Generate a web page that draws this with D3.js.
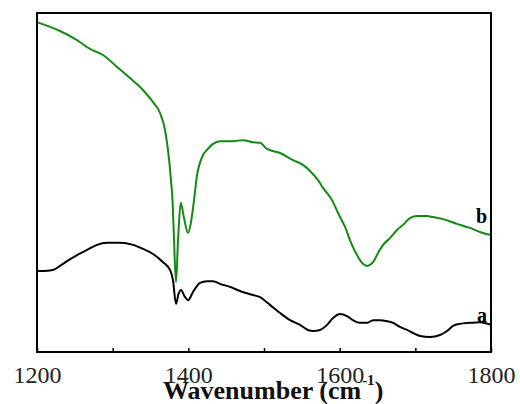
<!DOCTYPE html>
<html><head><meta charset="utf-8">
<script src="https://cdn.jsdelivr.net/npm/d3@7"></script>
<style>body{margin:0;background:#fff}svg{display:block}</style>
</head><body>
<script>
// wavenumber (cm-1) and intensity (a.u.)
const waveB = [1200,1217.2,1230.4,1252.9,1270,1287.2,1305.7,1322.9,1340.1,1353.3,1362.6,1369.2,1373.1,1377.1,1379.1,1381.1,1383.7,1386.4,1389.9,1394.3,1399.6,1403.5,1407.5,1411.5,1415.4,1419.4,1424.7,1432.6,1441.9,1459,1472.3,1485.5,1494.7,1504,1521.2,1538.3,1551.5,1560.8,1571.4,1578,1589.9,1597.8,1607.1,1615,1622.9,1630.8,1636.1,1644.1,1650.7,1657.3,1666.5,1675.8,1683.7,1692.9,1702.2,1715.4,1723.4,1736.6,1755.1,1772.3,1785.5,1800];
const seriesB = [97.3,95.9,94.7,92.0,89.4,87.6,84.1,80.8,77.3,73.7,70.5,65.5,59.6,50.7,44.8,33.0,20.6,33.0,44.0,39.5,35.1,38.3,44.8,52.2,55.8,58.1,59.6,61.4,62.2,62.2,62.5,61.9,61.7,59.9,58.7,56.6,55.2,53.4,50.7,48.4,44.8,41.0,36.9,32.2,28.6,26.0,25.4,26.5,29.2,31.6,33.6,36.0,37.5,39.5,40.1,40.1,39.8,39.2,37.8,36.6,35.4,34.5];
const waveA = [1200,1207.9,1221.1,1230.4,1239.6,1252.9,1266.1,1279.3,1292.5,1309.7,1326.9,1340.1,1353.3,1366.5,1375.8,1379.7,1383.7,1387,1390.3,1394.9,1399.6,1406.2,1415.4,1424.7,1432.6,1441.9,1455.1,1468.3,1485.5,1494.7,1507.9,1521.2,1534.4,1547.6,1558.1,1564.8,1574,1583.3,1591.2,1600.4,1609.7,1617.6,1626.9,1636.1,1644.1,1653.3,1662.6,1670.5,1679.7,1689,1696.9,1706.2,1719.4,1732.6,1741.9,1749.8,1759,1772.3,1785.5,1800];
const seriesA = [23.9,23.9,24.2,25.4,26.8,28.6,30.1,31.6,32.2,32.2,31.6,30.4,28.9,26.5,24.2,21.2,14.2,17.1,18.3,16.5,15.3,17.7,20.4,20.9,20.9,20.1,19.2,18.0,16.8,16.2,13.9,11.5,9.4,8.0,6.5,6.2,6.5,8.0,10.0,11.2,10.6,9.4,8.6,8.6,9.4,9.4,9.1,8.6,7.4,6.5,5.6,4.7,4.4,5.0,6.2,7.7,8.3,8.6,8.8,8.0];
const majorTicks = [1200,1400,1600,1800];
const minorTicks = [1300,1500,1700];
const seriesLabels = ["a","b"];

const W = 520, H = 404;
const L = 37, R = 491, T = 13, B = 352;
const svg = d3.select("body").append("svg").attr("width", W).attr("height", H);
const x = d3.scaleLinear().domain([1200,1800]).range([L,R]);
const y = d3.scaleLinear().domain([0,100]).range([B,T]);

const line = d3.line().x(d => x(d[0])).y(d => y(d[1])).curve(d3.curveMonotoneX);
const dataA = waveA.map((w,i) => [w, seriesA[i]]);
const dataB = waveB.map((w,i) => [w, seriesB[i]]);

svg.append("path").datum(dataA).attr("d", line).attr("fill","none")
  .attr("stroke","#000").attr("stroke-width",2).attr("stroke-linejoin","round");
svg.append("path").datum(dataB).attr("d", line).attr("fill","none")
  .attr("stroke","#138a13").attr("stroke-width",2).attr("stroke-linejoin","round");

// axis
const axis = d3.axisBottom(x).tickValues(majorTicks).tickSizeInner(-4).tickSizeOuter(0).tickPadding(14)
  .tickFormat(d3.format("d"));
const gx = svg.append("g").attr("transform", `translate(0,${B})`).call(axis);
gx.select(".domain").remove();
gx.selectAll(".tick line").attr("stroke","#000").attr("stroke-width",1.5);
gx.selectAll(".tick text").attr("font-family","'Liberation Serif', serif").attr("font-size",24)
  .attr("fill","#222").attr("dy","0.72em");
const minor = d3.axisBottom(x).tickValues(minorTicks).tickSizeInner(-4).tickSizeOuter(0).tickFormat("");
const gm = svg.append("g").attr("transform", `translate(0,${B})`).call(minor);
gm.select(".domain").remove();
gm.selectAll(".tick line").attr("stroke","#000").attr("stroke-width",1.5);

// frame
svg.append("rect").attr("x",L).attr("y",T).attr("width",R-L).attr("height",B-T)
  .attr("fill","none").attr("stroke","#000").attr("stroke-width",2);

// title
const t = svg.append("text").attr("x",163).attr("y",399)
  .attr("font-family","'Liberation Serif', serif").attr("font-weight","bold").attr("font-size",26).attr("fill","#111");
t.append("tspan").text("Wavenumber (cm");
t.append("tspan").attr("font-size",15).attr("dy",-14).attr("dx",1).text("-1");
t.append("tspan").attr("dy",14).text(")");

// series labels
svg.append("text").attr("x",477).attr("y",322).text(seriesLabels[0])
  .attr("font-family","'Liberation Serif', serif").attr("font-weight","bold").attr("font-size",20);
svg.append("text").attr("x",476).attr("y",223).text(seriesLabels[1])
  .attr("font-family","'Liberation Serif', serif").attr("font-weight","bold").attr("font-size",20);
</script>
</body></html>
